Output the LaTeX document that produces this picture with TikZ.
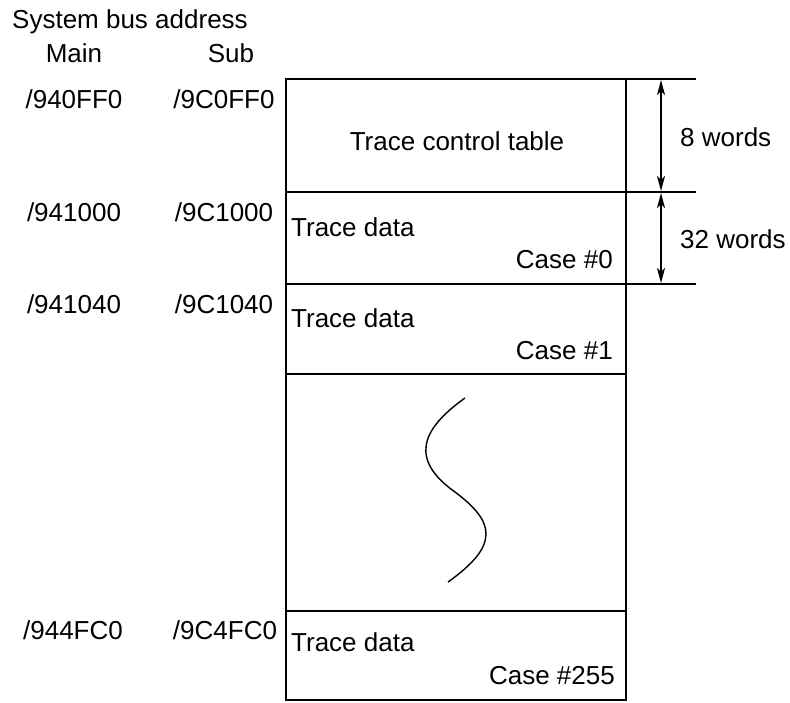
\documentclass[tikz,border=0pt]{standalone}
\usepackage{fontspec}
\setmainfont{Liberation Sans}
\usetikzlibrary{arrows.meta}
\begin{document}
\begin{tikzpicture}[x=1pt,y=-1pt,
  lbl/.style={inner sep=0pt,font=\fontsize{26}{31}\selectfont},
  wall/.style={line width=2pt,line cap=rect},
  dim/.style={line width=2pt,{Stealth[length=15pt,width=8pt,inset=4pt]}-{Stealth[length=15pt,width=8pt,inset=4pt]}}]
\useasboundingbox (0,0) rectangle (790,702);
% outline
\coordinate (tl) at (286,79);
\coordinate (tr) at (626,79);
\coordinate (bl) at (286,700);
\coordinate (br) at (626,700);
\draw[wall] (tl) rectangle (br);
\draw[wall] (tr) -- (695,79);
\draw[wall] (286,192) -- (695,192);
\draw[wall] (286,284) -- (695,284);
\draw[wall] (286,374) -- (626,374);
\draw[wall] (286,611) -- (626,611);
% dimension arrows
\coordinate (a1) at (661,80);
\coordinate (a2) at (661,191);
\coordinate (a3) at (661,193);
\coordinate (a4) at (661,283);
\draw[dim] (a1) -- (a2);
\draw[dim] (a3) -- (a4);
\node[lbl,anchor=west] (w8) at (680,137) {8 words};
\node[lbl,anchor=west] (w32) at (680,239) {32 words};
% header
\node[lbl,anchor=west] (hdr) at (12,22) {System bus address};
\node[lbl] (hmain) at (74,53) {Main};
\node[lbl] (hsub) at (231,53) {Sub};
% addresses
\node[lbl] (m1) at (74,99) {/940FF0};
\node[lbl] (s1) at (224,99) {/9C0FF0};
\node[lbl] (m2) at (74,212) {/941000};
\node[lbl] (s2) at (224,212) {/9C1000};
\node[lbl] (m3) at (74,304) {/941040};
\node[lbl] (s3) at (224,304) {/9C1040};
\node[lbl] (m4) at (73,630) {/944FC0};
\node[lbl] (s4) at (225,630) {/9C4FC0};
% contents
\node[lbl] (ctl) at (457,141) {Trace control table};
\node[lbl,anchor=west] (td0) at (291,227) {Trace data};
\node[lbl,anchor=east] (c0) at (613,260) {Case \#0};
\node[lbl,anchor=west] (td1) at (291,318) {Trace data};
\node[lbl,anchor=east] (c1) at (613,351) {Case \#1};
\node[lbl,anchor=west] (td2) at (291,642) {Trace data};
\node[lbl,anchor=east] (c2) at (615,676) {Case \#255};
% break curve
\draw[line width=1.4pt] (465,398) .. controls (420,430) and (410,460) .. (455,492)
  .. controls (495,522) and (500,545) .. (448,582);
\end{tikzpicture}
\end{document}
